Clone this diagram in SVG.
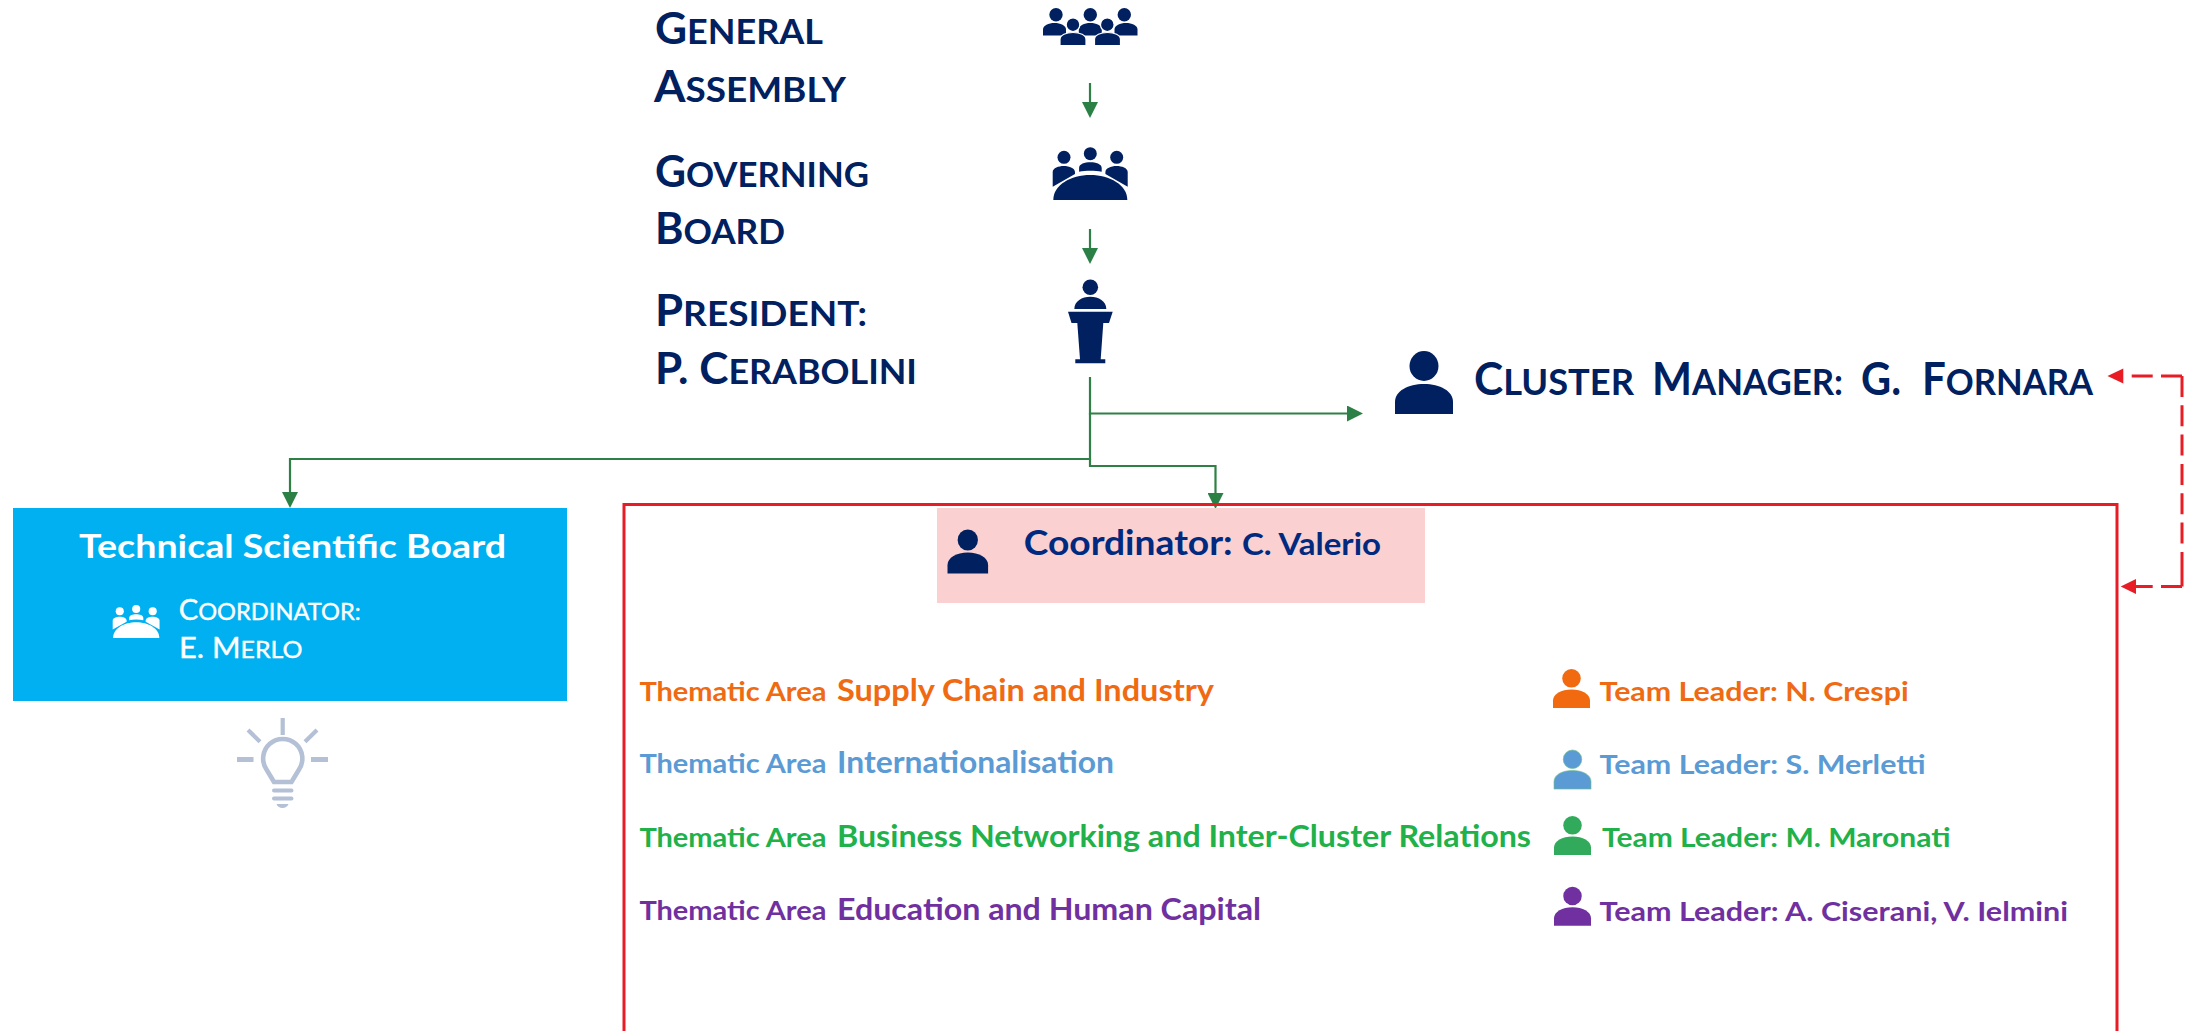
<svg xmlns="http://www.w3.org/2000/svg" width="2187" height="1031" viewBox="0 0 2187 1031">
<style>
text{font-family:Lato,"Noto Sans","Liberation Sans",sans-serif;white-space:pre}
.big{fill:#002060;font-weight:700;font-size:43px}
.big .sc{font-size:35px}
.big.cm{font-size:45px}
.big.cm .sc{font-size:37px}
.tsb{fill:#fff;font-weight:700;font-size:33px}
.co{fill:#fff;stroke:#fff;stroke-width:.4;font-weight:400;font-size:29px}
.co .sc{font-size:23.5px}
.coord{fill:#002a80;font-weight:700}
.th{font-weight:700;font-size:27.5px}
.th .n{font-size:30px}
.tl{font-weight:700;font-size:27.5px}
.orange{fill:#ef6a12}.blue{fill:#5b9bd5}.green{fill:#21b14a}.purple{fill:#7030a0}
.g{fill:none;stroke:#2e8045;stroke-width:2.2;marker-end:url(#ga)}
.r{fill:none;stroke:#e81c24;stroke-width:3}
.navy{fill:#002060}
</style>
<defs>
<marker id="ga" markerUnits="userSpaceOnUse" markerWidth="16" markerHeight="16" refX="0" refY="8" orient="auto"><path d="M0 0L16 8L0 16Z" fill="#2a8045"/></marker>
<g id="person"><ellipse cx="29" cy="15" rx="14.5" ry="15"/><path d="M0 63V51C0 40 13 33 29 33C45 33 58 40 58 51V63Z"/></g>
<path id="b1" d="M-11.5 12.5V6.5C-11.5 2.5 -6 0 0 0C6 0 11.5 2.5 11.5 6.5V12.5Z"/>
<g id="board">
<circle cx="11.3" cy="12.3" r="6.5" stroke="none"/><circle cx="37.6" cy="8.7" r="6.5" stroke="none"/><circle cx="64" cy="12.3" r="6.5" stroke="none"/>
<path stroke="none" d="M0 41.7V27C0 23 6 21 11 21C17 21 22.3 23.5 22.3 27V29L0 41.7ZM75 41.7V27C75 23 69 21 64 21C58 21 52.7 23.5 52.7 27V29ZM26.4 26.7V23C26.4 19 32 17.3 37.6 17.3C43 17.3 49 19 49 23V26.7C42 25.3 33 25.3 26.4 26.7Z"/>
<path stroke="none" d="M0.6 55V55C0.6 40 18 30 37.6 30C57 30 74.6 40 74.6 55Z"/>
</g>
</defs>

<g id="connectors">
<path class="g" d="M1090 83V102"/>
<path class="g" d="M1090 229V248"/>
<path class="g" d="M1090 377V413.5H1347"/>
<path class="g" d="M1090 413V459H290V492"/>
<path class="g" d="M1090 459V466H1215.5V493"/>
<path class="r" stroke-dasharray="21 8.3" d="M2131.7 376H2182M2182 376V545M2182 552V573M2182 565.4V586.4M2182 586.4H2136"/>
<path d="M2123.3 368.5L2107.5 376L2123.3 383.5ZM2136 578.9L2120.7 586.4L2136 593.9Z" fill="#e81c24"/>
</g>

<g id="general-assembly">
<text class="big" x="655" y="44" textLength="168" lengthAdjust="spacingAndGlyphs"><tspan>G</tspan><tspan class="sc">ENERAL</tspan></text>
<text class="big" x="654" y="102" textLength="192" lengthAdjust="spacingAndGlyphs"><tspan>A</tspan><tspan class="sc">SSEMBLY</tspan></text>
<g class="navy">
<circle cx="1056" cy="14.7" r="6.7"/><circle cx="1090.3" cy="14.7" r="6.7"/><circle cx="1124.3" cy="14.7" r="6.7"/>
<use href="#b1" transform="translate(1054.5 23)"/><use href="#b1" transform="translate(1126 23)"/>
<use href="#b1" transform="translate(1090.3 23)"/>
<circle cx="1073" cy="24.7" r="6.8" stroke="#fff" stroke-width="1.2"/><circle cx="1107.3" cy="24.7" r="6.8" stroke="#fff" stroke-width="1.2"/>
<path d="M1060 45.7V39.5C1060 35 1066 32.5 1073 32.5C1080 32.5 1086 35 1086 39.5V45.7Z" stroke="#fff" stroke-width="1.2"/>
<path d="M1094.5 45.7V39.5C1094.5 35 1100.5 32.5 1107.5 32.5C1114.5 32.5 1120.5 35 1120.5 39.5V45.7Z" stroke="#fff" stroke-width="1.2"/>
</g>
</g>

<g id="governing-board">
<text class="big" x="655" y="187" textLength="214" lengthAdjust="spacingAndGlyphs"><tspan>G</tspan><tspan class="sc">OVERNING</tspan></text>
<text class="big" x="655" y="244" textLength="130" lengthAdjust="spacingAndGlyphs"><tspan>B</tspan><tspan class="sc">OARD</tspan></text>
<use href="#board" transform="translate(1052.7 145)" fill="#002060" stroke="#fff" stroke-width="3"/>
</g>

<g id="president">
<text class="big" x="655" y="326" textLength="212" lengthAdjust="spacingAndGlyphs"><tspan>P</tspan><tspan class="sc">RESIDENT:</tspan></text>
<text class="big" x="655" y="384" textLength="262" lengthAdjust="spacingAndGlyphs"><tspan>P. C</tspan><tspan class="sc">ERABOLINI</tspan></text>
<g class="navy">
<circle cx="1090.3" cy="287.3" r="7.8"/>
<path d="M1074.3 309C1074.3 301 1082 296.7 1090.3 296.7C1098.6 296.7 1106.3 301 1106.3 309Z"/>
<path d="M1068 311.7H1112.7L1109 323H1103.3L1100.7 359.3H1105.3V363.3H1075.3V359.3H1080L1077.3 323H1071.5Z"/>
</g>
</g>

<g id="cluster-manager">
<use href="#person" class="navy" transform="translate(1395 351)"/>
<text class="big cm" y="395"><tspan x="1474" textLength="160" lengthAdjust="spacingAndGlyphs">C<tspan class="sc">LUSTER</tspan></tspan><tspan x="1652" textLength="191" lengthAdjust="spacingAndGlyphs">M<tspan class="sc">ANAGER:</tspan></tspan><tspan x="1861" textLength="40" lengthAdjust="spacingAndGlyphs">G.</tspan><tspan x="1922" textLength="171" lengthAdjust="spacingAndGlyphs">F<tspan class="sc">ORNARA</tspan></tspan></text>
</g>

<g id="technical-scientific-board">
<rect x="13" y="508" width="554" height="193" fill="#00b0f0"/>
<text class="tsb" x="79" y="558" textLength="427" lengthAdjust="spacingAndGlyphs">Technical Scientific Board</text>
<use href="#board" transform="translate(112.7 603.5) scale(.625)" fill="#fff" stroke="#00b0f0" stroke-width="3"/>
<text class="co" x="178.7" y="620" textLength="182" lengthAdjust="spacingAndGlyphs"><tspan>C</tspan><tspan class="sc">OORDINATOR:</tspan></text>
<text class="co" x="179" y="658" textLength="123.5" lengthAdjust="spacingAndGlyphs"><tspan>E. M</tspan><tspan class="sc">ERLO</tspan></text>
</g>

<g id="idea-icon" fill="none" stroke="#b4c0d6">
<path stroke-width="4.2" d="M282.7 718V735M248 730L260 741.7M317 730L305 741.7"/>
<path stroke-width="5" d="M237 759.5H253.5M311 759.5H328"/>
<path stroke-width="4.6" d="M274 782L266.5 769.5A19.6 19.6 0 1 1 299 769.5L291.5 782Z"/>
<path stroke-width="4" stroke-linecap="round" d="M274 790.5H291.5M274 798.5H291.5"/>
<path stroke="none" fill="#b4c0d6" d="M276.5 804H288.5C288 806 285.5 808 282.5 808C279.5 808 277 806 276.5 804Z"/>
</g>

<g id="thematic-areas">
<rect x="937" y="508" width="488" height="95" fill="#fad0d0"/>
<path class="r" d="M624 1031V504.5H2117V1031"/>
<use href="#person" class="navy" transform="translate(947.5 529.5) scale(.7)"/>
<text class="coord" y="554.5"><tspan x="1023.7" textLength="209" lengthAdjust="spacingAndGlyphs" style="font-size:35px">Coordinator:</tspan><tspan x="1242" textLength="139" lengthAdjust="spacingAndGlyphs" style="font-size:30px">C. Valerio</tspan></text>

<text class="th orange" y="700.7"><tspan x="639.4" textLength="187" lengthAdjust="spacingAndGlyphs">Thematic Area</tspan><tspan class="n" x="837" textLength="377" lengthAdjust="spacingAndGlyphs">Supply Chain and Industry</tspan></text>
<text class="th blue" y="773.4"><tspan x="639.4" textLength="187" lengthAdjust="spacingAndGlyphs">Thematic Area</tspan><tspan class="n" x="837" textLength="277" lengthAdjust="spacingAndGlyphs">Internationalisation</tspan></text>
<text class="th green" y="847"><tspan x="639.4" textLength="187" lengthAdjust="spacingAndGlyphs">Thematic Area</tspan><tspan class="n" x="837" textLength="694" lengthAdjust="spacingAndGlyphs">Business Networking and Inter-Cluster Relations</tspan></text>
<text class="th purple" y="920"><tspan x="639.4" textLength="187" lengthAdjust="spacingAndGlyphs">Thematic Area</tspan><tspan class="n" x="837" textLength="424" lengthAdjust="spacingAndGlyphs">Education and Human Capital</tspan></text>

<use href="#person" fill="#f26a10" transform="translate(1553 669) scale(.638 .62)"/>
<text class="tl orange" x="1599.6" y="700.7" textLength="309" lengthAdjust="spacingAndGlyphs">Team Leader: N. Crespi</text>
<use href="#person" fill="#5b9bd5" stroke="#70c08a" stroke-width="1" transform="translate(1554 750) scale(.638 .62)"/>
<text class="tl blue" x="1599.6" y="773.7" textLength="326" lengthAdjust="spacingAndGlyphs">Team Leader: S. Merletti</text>
<use href="#person" fill="#31ab5b" transform="translate(1554 816) scale(.638 .62)"/>
<text class="tl green" x="1602" y="847" textLength="348.6" lengthAdjust="spacingAndGlyphs">Team Leader: M. Maronati</text>
<use href="#person" fill="#7030a0" transform="translate(1554 886.7) scale(.638 .62)"/>
<text class="tl purple" x="1599.6" y="920.7" textLength="468.4" lengthAdjust="spacingAndGlyphs">Team Leader: A. Ciserani, V. Ielmini</text>
</g>
</svg>
